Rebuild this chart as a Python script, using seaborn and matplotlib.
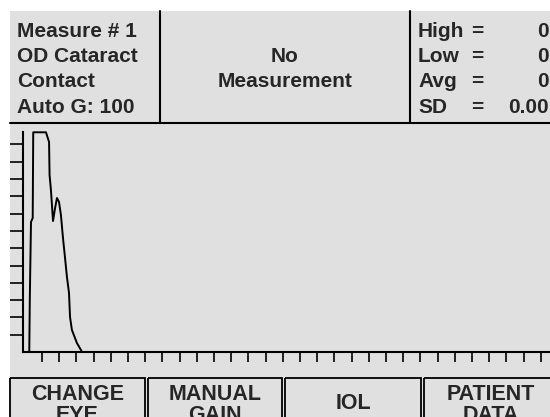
import numpy as np
import pandas as pd
import matplotlib
matplotlib.use("Agg")
import matplotlib.pyplot as plt
import seaborn as sns
from matplotlib.patches import Rectangle

# ── data ──────────────────────────────────────────────────────────────────────
info_lines = ["Measure # 1", "OD Cataract", "Contact", "Auto G: 100"]
status_lines = ["No", "Measurement"]
stat_names = ["High", "Low", "Avg", "SD"]
stat_values = ["0", "0", "0", "0.00"]
buttons = [["CHANGE", "EYE"], ["MANUAL", "GAIN"], ["IOL"], ["PATIENT", "DATA"]]

# echo trace (depth in tick units, amplitude in tick units)
depth = [0.26, 0.29, 0.36, 0.46, 0.49, 1.23, 1.41, 1.44, 1.52, 1.64, 1.76,
         1.87, 1.99, 2.10, 2.22, 2.34, 2.45, 2.57, 2.63, 2.74, 3.03, 3.33]
amplitude = [0.0, 3.01, 7.51, 7.75, 12.7, 12.7, 12.14, 10.23, 9.36, 7.57, 8.32,
             8.90, 8.67, 7.92, 6.59, 5.43, 4.34, 3.41, 2.02, 1.27, 0.52, 0.0]
x_ticks = list(range(1, 31))
y_ticks = list(range(1, 13))

# ── figure ────────────────────────────────────────────────────────────────────
sns.set_style("white")
W, H = 550, 417
fig = plt.figure(figsize=(W / 100, H / 100), dpi=100)
fig.patch.set_facecolor("white")

BG = "#e0e0e0"
head_font = ["Liberation Sans", "DejaVu Sans"]
btn_font = ["Liberation Sans", "DejaVu Sans"]

# overlay in pixel coordinates for the panel furniture
ov = fig.add_axes([0, 0, 1, 1])
ov.set_xlim(0, W)
ov.set_ylim(H, 0)
ov.axis("off")
ov.add_patch(Rectangle((10, 11), W - 10, H - 11, facecolor=BG, edgecolor="none"))

lw = 1.5
ov.plot([10, W], [123, 123], color="black", lw=lw)
ov.plot([160, 160], [11, 123], color="black", lw=lw)
ov.plot([410, 410], [11, 123], color="black", lw=lw)

baselines = [37, 62, 87, 113]
for txt, yb in zip(info_lines, baselines):
    ov.text(17, yb, txt, family=head_font, fontweight="bold", fontsize=15,
            va="baseline", ha="left")
for txt, yb in zip(status_lines, baselines[1:3]):
    ov.text(285, yb, txt, family=head_font, fontweight="bold", fontsize=15,
            va="baseline", ha="center")
for name, val, yb in zip(stat_names, stat_values, baselines):
    ov.text(418, yb, name, family=head_font, fontweight="bold", fontsize=15,
            va="baseline", ha="left")
    ov.text(471, yb, "=", family=head_font, fontweight="bold", fontsize=15,
            va="baseline", ha="left")
    ov.text(549, yb, val, family=head_font, fontweight="bold", fontsize=15,
            va="baseline", ha="right")

# soft buttons
btn_x = [(10, 145), (148, 282), (285, 421), (424, 558)]
for (x0, x1), label in zip(btn_x, buttons):
    ov.add_patch(Rectangle((x0, 378), x1 - x0, 60, facecolor="none",
                           edgecolor="black", lw=1.3))
    xc = (x0 + x1) / 2
    if len(label) == 1:
        ov.text(xc, 409, label[0], family=btn_font, fontweight="bold",
                fontsize=15.5, va="baseline", ha="center")
    else:
        for txt, yb in zip(label, [400, 421]):
            ov.text(xc, yb, txt, family=btn_font, fontweight="bold",
                    fontsize=15.5, va="baseline", ha="center")

# A-scan trace axes: origin at (23, 352) px, 17.2 px per x unit, 17.3 px per y unit
x_unit, y_unit = 17.2, 17.3
x_lo = (23 - 24.8) / x_unit
x_hi = x_lo + (W - 23) / x_unit
y_hi = (352 - 132) / y_unit
ax = fig.add_axes([23 / W, (H - 352) / H, (W - 23) / W, (352 - 132) / H])
ax.patch.set_alpha(0)

trace = pd.DataFrame({"depth": depth, "amplitude": amplitude})
sns.lineplot(data=trace, x="depth", y="amplitude", ax=ax, sort=False,
             estimator=None, color="black", lw=1.4, clip_on=False)

ax.set_xlim(x_lo, x_hi)
ax.set_ylim(0, y_hi)
ax.set_xticks(x_ticks)
ax.set_yticks(y_ticks)
ax.set_xticklabels([])
ax.set_yticklabels([])
ax.set_xlabel("")
ax.set_ylabel("")
for side in ["top", "right"]:
    ax.spines[side].set_visible(False)
for side in ["left", "bottom"]:
    ax.spines[side].set_color("black")
    ax.spines[side].set_linewidth(1.5)
ax.tick_params(axis="x", bottom=True, direction="out", length=7, width=1.2,
               color="black")
ax.tick_params(axis="y", left=True, direction="out", length=9.4, width=1.2,
               color="black")

fig.savefig("out.png", dpi=100, facecolor="white")
